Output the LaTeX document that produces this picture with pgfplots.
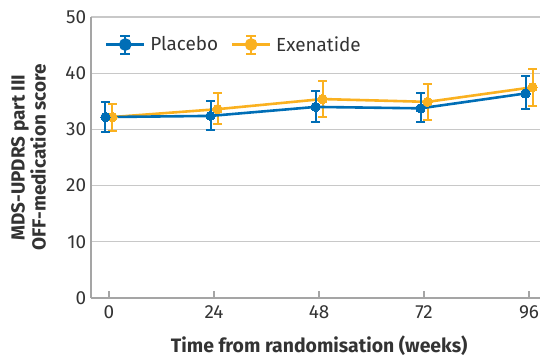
\documentclass[border=0pt]{standalone}
\usepackage{pgfplots}
\pgfplotsset{compat=1.18}
\usepackage{fontspec}
\setmainfont{Fira Sans}
\definecolor{pblue}{RGB}{0,110,182}
\definecolor{xorange}{RGB}{250,177,32}
\definecolor{txt}{RGB}{51,51,51}
\definecolor{gridc}{RGB}{200,200,200}
\definecolor{axc}{RGB}{165,165,165}

\pgfplotstableread{
x y ep em
-0.8 32.2 2.6 2.6
23.2 32.4 2.7 2.45
47.2 34.0 2.9 2.7
71.2 33.75 2.65 2.45
95.2 36.4 3.1 2.8
}\placebo

\pgfplotstableread{
x y ep em
0.8 32.2 2.4 2.5
24.8 33.6 2.8 2.7
48.8 35.4 3.2 3.2
72.8 34.9 3.2 3.3
96.8 37.5 3.2 3.3
}\exenatide

\begin{document}
\begin{tikzpicture}
\begin{axis}[
  at={(0,0)}, anchor=south west,
  scale only axis,
  width=449bp, height=281bp,
  xmin=-4.11, xmax=98.5, ymin=0, ymax=50,
  axis lines=left,
  axis line style={draw=axc, line width=1.6bp, -},
  xtick={0,24,48,72,96},
  ytick={0,10,20,30,40,50},
  ymajorgrids,
  grid style={draw=gridc, line width=1.3bp},
  tick align=inside,
  major tick length=7bp,
  xtick style={draw=axc, line width=1.2bp},
  ytick style={draw=none},
  tick label style={font=\fontsize{19}{21}\selectfont, text=txt},
  /pgf/number format/assume math mode=true,
  xticklabel style={yshift=-4bp},
  yticklabel style={xshift=-1.4bp},
  xlabel={Time from randomisation (weeks)},
  ylabel={MDS-UPDRS part III\\OFF-medication score},
  ylabel style={at={(axis description cs:-0.1392,0.5)}, anchor=center,
    align=center, font=\fontsize{19}{21}\bfseries, text=txt},
  xlabel style={at={(axis description cs:0.5,0)}, anchor=base,
    xshift=3.7bp, yshift=-54.3bp,
    font=\fontsize{19.5}{21}\selectfont\bfseries, text=txt},
  legend style={draw=none, fill=none,
    at={(axis description cs:0.0312,0.902)}, anchor=west,
    inner sep=0pt, outer sep=0pt,
    font=\fontsize{19}{21}\selectfont, text=txt,
    /tikz/every odd column/.append style={column sep=2.7bp},
    /tikz/every even column/.append style={column sep=10.7bp}},
  legend columns=2,
  reverse legend,
  legend image code/.code={
    \draw[#1, mark=none] (0bp,0bp) -- (38bp,0bp);
    \draw[#1, mark=none, line width=2bp] (19bp,-9bp) -- (19bp,9bp)
      (14bp,9bp) -- (24bp,9bp) (14bp,-9bp) -- (24bp,-9bp);
    \fill[#1] (19bp,0bp) circle (5bp);
  },
]
\addplot[xorange, line width=2.6bp, mark=*, mark size=4.7bp,
  mark options={solid, fill=xorange, draw=xorange, line width=0pt},
  error bars/.cd, y dir=both, y explicit,
  error bar style={line width=2bp, xorange},
  error mark options={rotate=90, mark size=4.5bp, line width=2bp, xorange}]
  table[x=x, y=y, y error plus=ep, y error minus=em]{\exenatide};
\addlegendentry{Exenatide}
\addplot[pblue, line width=2.6bp, mark=*, mark size=4.7bp,
  mark options={solid, fill=pblue, draw=pblue, line width=0pt},
  error bars/.cd, y dir=both, y explicit,
  error bar style={line width=2bp, pblue},
  error mark options={rotate=90, mark size=4.5bp, line width=2bp, pblue}]
  table[x=x, y=y, y error plus=ep, y error minus=em]{\placebo};
\addlegendentry{Placebo}
\end{axis}
\pgfresetboundingbox
\path (-91bp,-60bp) rectangle (449bp,298bp);
\end{tikzpicture}
\end{document}
